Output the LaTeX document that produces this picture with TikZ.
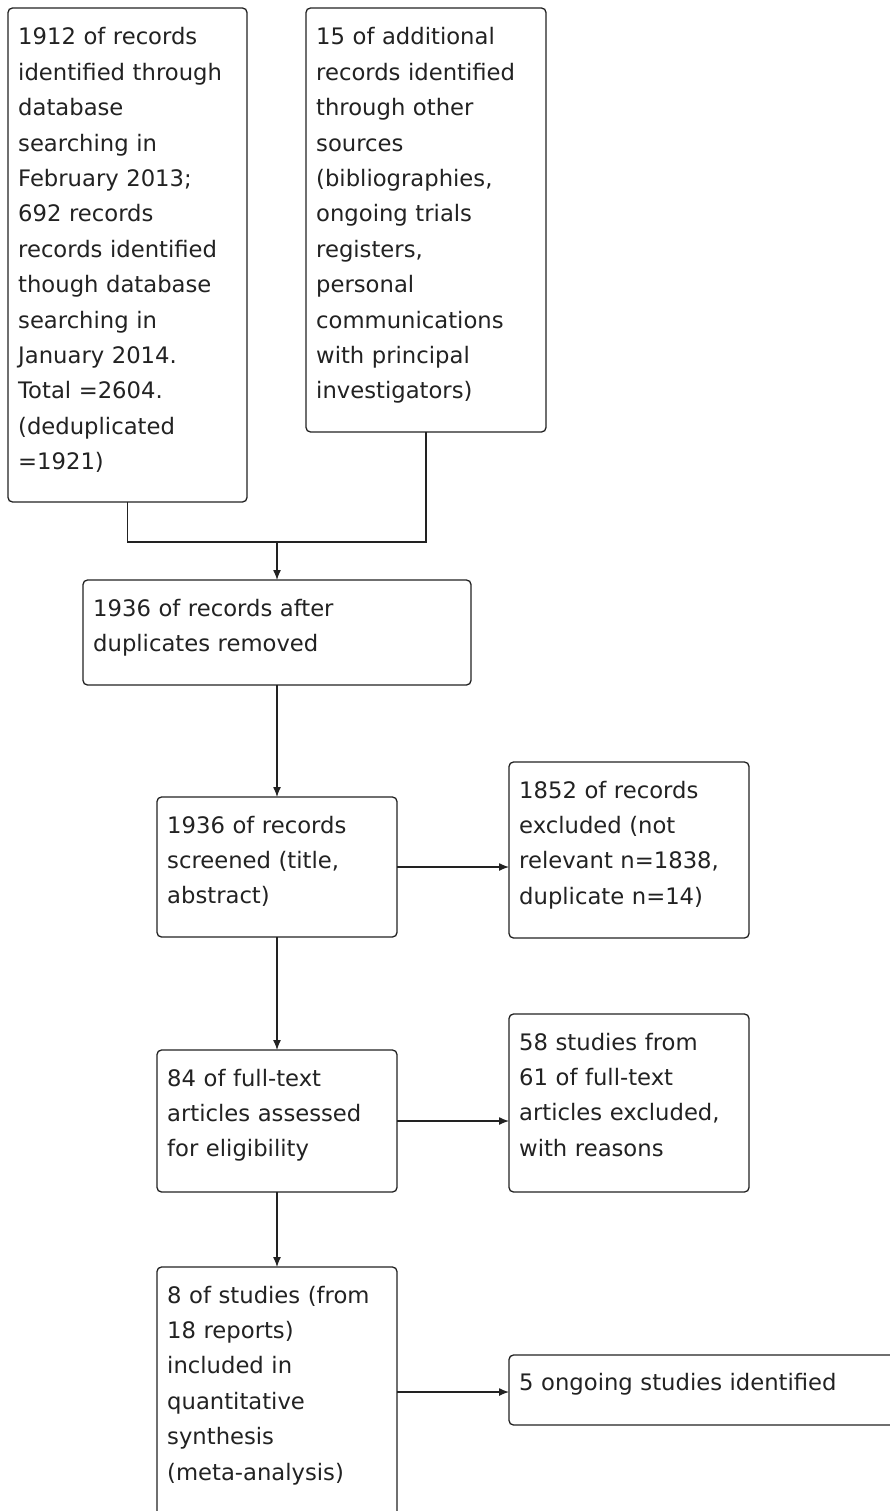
\documentclass[tikz,border=0pt]{standalone}
\usepackage{fontspec}
\setmainfont{DejaVu Sans}
\usetikzlibrary{arrows.meta,calc}
\definecolor{ink}{HTML}{222222}
\newcommand\boxfont{\fontsize{22.7}{35.4}\selectfont}
\tikzset{
  box/.style={draw=ink, line width=1.3pt, rectangle, rounded corners=4.5pt,
    inner sep=0pt, outer sep=0pt},
  txt/.style={anchor=base west, inner sep=0pt, text=ink, font=\boxfont,
    align=left, text width=360pt},
  link/.style={draw=ink, line width=1.3pt},
  arr/.style={link, -{Latex[length=10pt,width=8pt]}},
}
\begin{document}
\begin{tikzpicture}[x=1pt,y=-1pt]
\clip (0,0) rectangle (890,1511);
\fill[white] (0,0) rectangle (890,1511);

% boxes
\node[box, minimum width=239pt, minimum height=494pt] (b1) at (127.5,255) {};
\node[box, minimum width=240pt, minimum height=424pt] (b2) at (426,220) {};
\node[box, minimum width=388pt, minimum height=105pt] (b3) at (277,632.5) {};
\node[box, minimum width=240pt, minimum height=140pt] (b4) at (277,867) {};
\node[box, minimum width=240pt, minimum height=176pt] (b5) at (629,850) {};
\node[box, minimum width=240pt, minimum height=142pt] (b6) at (277,1121) {};
\node[box, minimum width=240pt, minimum height=178pt] (b7) at (629,1103) {};
\node[box, minimum width=240pt, minimum height=250pt] (b8) at (277,1392) {};
\node[box, minimum width=396pt, minimum height=70pt] (b9) at (707,1390) {};

% texts
\node[txt] (t1) at ($(b1.north west)+(10,37)$) {1912 of records\\identified through\\database\\searching in\\February 2013;\\692 records\\records identified\\though database\\searching in\\January 2014.\\Total =2604.\\(deduplicated\\=1921)};
\node[txt] (t2) at ($(b2.north west)+(10,37)$) {15 of additional\\records identified\\through other\\sources\\(bibliographies,\\ongoing trials\\registers,\\personal\\communications\\with principal\\investigators)};
\node[txt] (t3) at ($(b3.north west)+(10,36)$) {1936 of records after\\duplicates removed};
\node[txt] (t4) at ($(b4.north west)+(10,36)$) {1936 of records\\screened (title,\\abstract)};
\node[txt] (t5) at ($(b5.north west)+(10,36)$) {1852 of records\\excluded (not\\relevant n=1838,\\duplicate n=14)};
\node[txt] (t6) at ($(b6.north west)+(10,36)$) {84 of full-text\\articles assessed\\for eligibility};
\node[txt] (t7) at ($(b7.north west)+(10,36)$) {58 studies from\\61 of full-text\\articles excluded,\\with reasons};
\node[txt] (t8) at ($(b8.north west)+(10,36)$) {8 of studies (from\\18 reports)\\included in\\quantitative\\synthesis\\(meta-analysis)};
\node[txt] (t9) at ($(b9.north west)+(10,35)$) {5 ongoing studies identified};

% connectors
\coordinate (j) at (b3.north |- 0,542);
\draw[link] (b1.south) |- (j);
\draw[link] (b2.south) |- (j);
\draw[arr] (j) -- (b3.north);
\draw[arr] (b3.south) -- (b4.north);
\draw[arr] (b4.east) -- (b4.east -| b5.west);
\draw[arr] (b4.south) -- (b6.north);
\draw[arr] (b6.east) -- (b6.east -| b7.west);
\draw[arr] (b6.south) -- (b8.north);
\draw[arr] (b8.east) -- (b8.east -| b9.west);
\end{tikzpicture}
\end{document}
